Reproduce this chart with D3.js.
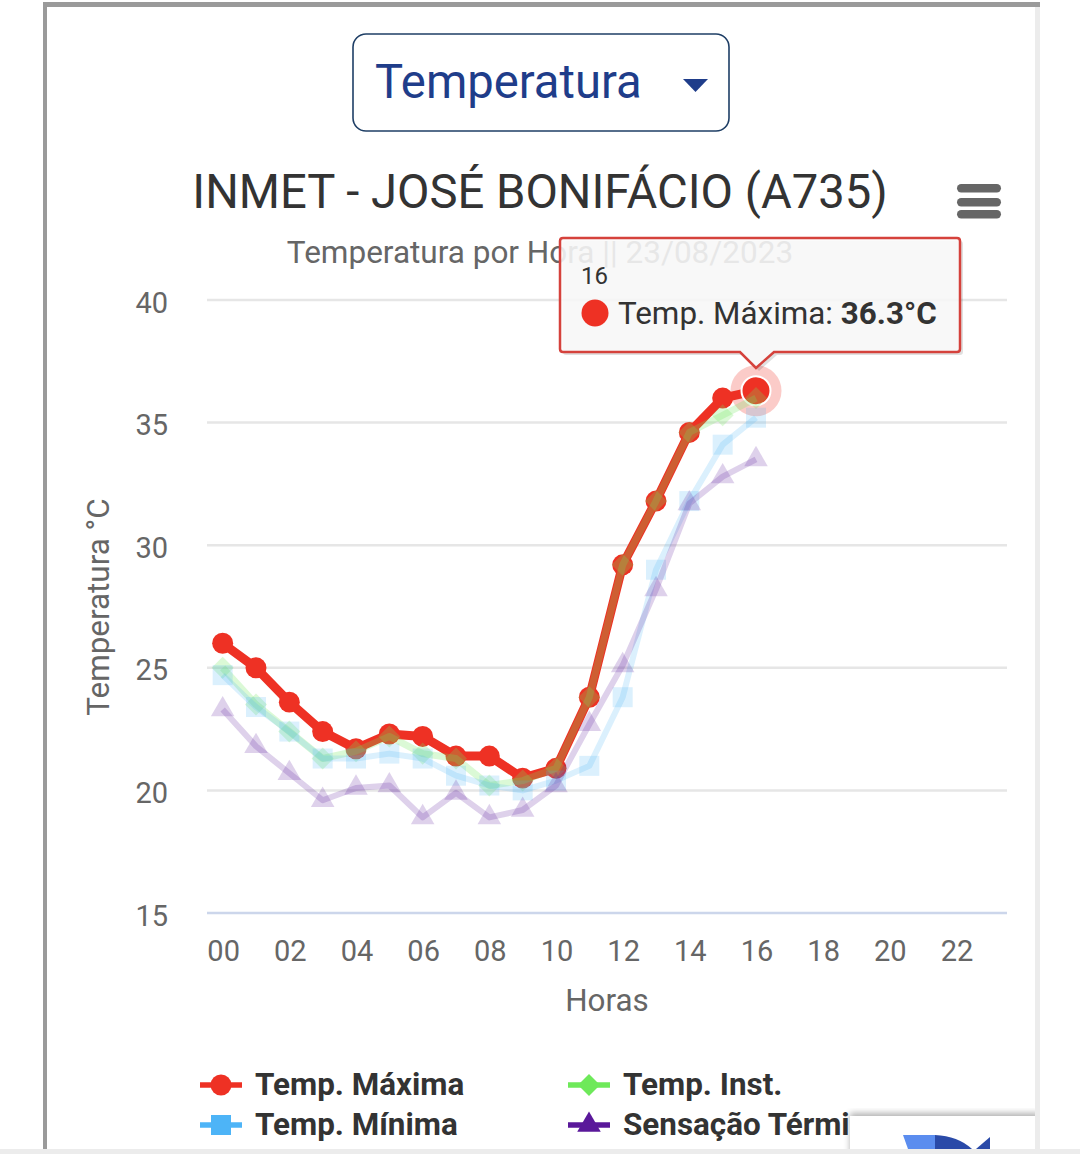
<!DOCTYPE html>
<html>
<head>
<meta charset="utf-8">
<script src="https://cdnjs.cloudflare.com/ajax/libs/d3/7.8.5/d3.min.js"></script>
<style>
html, body { margin: 0; padding: 0; background: #fff; overflow: hidden; }
text { font-family: Roboto, sans-serif; }
</style>
</head>
<body>
<svg id="chart" width="1080" height="1154"></svg>
<script>
const hours = d3.range(24).map(h => String(h).padStart(2, "0"));
const tickHours = hours.filter((h, i) => i % 2 === 0);
const yTicks = [15, 20, 25, 30, 35, 40];

const tempMax = [26.0, 25.0, 23.6, 22.4, 21.7, 22.3, 22.2, 21.4, 21.4, 20.5, 20.9, 23.8, 29.2, 31.8, 34.6, 36.0, 36.3];
const tempInst = [25.0, 23.5, 22.4, 21.3, 21.6, 22.2, 21.5, 21.3, 20.2, 20.4, 20.9, 23.8, 29.2, 31.8, 34.6, 35.3, 36.0];
const tempMin = [24.7, 23.4, 22.4, 21.3, 21.3, 21.5, 21.3, 20.6, 20.2, 20.0, 20.4, 21.0, 23.8, 29.0, 31.8, 34.1, 35.2];
const sensacao = [23.3, 21.8, 20.7, 19.6, 20.1, 20.2, 18.9, 19.9, 18.9, 19.2, 20.2, 22.7, 25.1, 28.2, 31.7, 32.8, 33.5];

const svg = d3.select("#chart");

const x = d3.scaleBand().domain(hours).range([207, 1007]);
const y = d3.scaleLinear().domain([15, 40]).range([913, 300]);
const px = i => x(hours[i]) + x.bandwidth() / 2 - 1;

// page frame
svg.append("rect").attr("x", 43).attr("y", 2).attr("width", 4).attr("height", 1152).attr("fill", "#9a9a9a");
svg.append("rect").attr("x", 43).attr("y", 2).attr("width", 997).attr("height", 5).attr("fill", "#9a9a9a");

// dropdown
svg.append("rect").attr("x", 353).attr("y", 34).attr("width", 376).attr("height", 97).attr("rx", 13)
  .attr("fill", "#fff").attr("stroke", "#1f3f66").attr("stroke-width", 1.6);
svg.append("text").attr("x", 375).attr("y", 98).attr("font-size", 47.2).attr("fill", "#1f3d8a").text("Temperatura");
svg.append("path").attr("d", "M683,79 L708,79 L695.5,92 Z").attr("fill", "#1f3d8a");

// title, menu, subtitle
svg.append("text").attr("x", 540).attr("y", 208).attr("text-anchor", "middle").attr("font-size", 47.2)
  .attr("fill", "#333").text("INMET - JOSÉ BONIFÁCIO (A735)");
[184, 198, 210].forEach(top => {
  svg.append("rect").attr("x", 957).attr("y", top).attr("width", 44).attr("height", 8.5).attr("rx", 4.2).attr("fill", "#666");
});
svg.append("text").attr("x", 540).attr("y", 263).attr("text-anchor", "middle").attr("font-size", 31.5)
  .attr("fill", "#666").text("Temperatura por Hora || 23/08/2023");

// grid
svg.append("g").selectAll("line").data(yTicks).join("line")
  .attr("x1", 207).attr("x2", 1007)
  .attr("y1", d => y(d)).attr("y2", d => y(d))
  .attr("stroke", d => d === 15 ? "#ccd6eb" : "#e6e6e6").attr("stroke-width", 2.5);

// axes
const yAxis = svg.append("g").attr("transform", "translate(168,0)")
  .call(d3.axisLeft(y).tickValues(yTicks).tickSize(0).tickPadding(0));
yAxis.select(".domain").remove();
yAxis.selectAll("text").attr("font-size", 29).attr("fill", "#666").attr("dy", "0.42em").attr("font-family", "Roboto, sans-serif");

const xAxis = svg.append("g").attr("transform", "translate(0,913)")
  .call(d3.axisBottom(x).tickValues(tickHours).tickSize(0).tickPadding(27));
xAxis.select(".domain").remove();
xAxis.selectAll("text").attr("font-size", 29).attr("fill", "#666").attr("font-family", "Roboto, sans-serif");

svg.append("text").attr("x", 607).attr("y", 1011).attr("text-anchor", "middle").attr("font-size", 31.4)
  .attr("fill", "#666").text("Horas");
svg.append("text").attr("transform", "translate(109,607) rotate(-90)").attr("text-anchor", "middle")
  .attr("font-size", 31.4).attr("fill", "#666").text("Temperatura °C");

// series
const line = d3.line().x((d, i) => px(i)).y(d => y(d));
const symbols = { circle: d3.symbolCircle, diamond: d3.symbolDiamond2, square: d3.symbolSquare, triangle: d3.symbolTriangle };

const series = [
  { name: "Temp. Máxima", values: tempMax, color: "#ee3124", shape: "circle", size: 345, width: 9, opacity: 1 },
  { name: "Temp. Inst.", values: tempInst, color: "#6ee95a", shape: "diamond", size: 310, width: 7, opacity: 0.25 },
  { name: "Temp. Mínima", values: tempMin, color: "#4db4f7", shape: "square", size: 400, width: 6, opacity: 0.2 },
  { name: "Sensação Térmica", values: sensacao, color: "#5a189a", shape: "triangle", size: 240, width: 6, opacity: 0.2 }
];

const hoverX = px(16), hoverY = y(tempMax[16]);

series.forEach((s, n) => {
  const g = svg.append("g");
  g.append("path").attr("d", line(s.values)).attr("fill", "none").attr("opacity", s.opacity)
    .attr("stroke", s.color).attr("stroke-width", s.width).attr("stroke-linejoin", "round");
  g.selectAll("path.pt").data(s.values).join("path").attr("class", "pt").attr("opacity", s.opacity)
    .attr("transform", (d, i) => `translate(${px(i)},${y(d)})`)
    .attr("d", d3.symbol(symbols[s.shape], s.size))
    .attr("fill", s.color);
  // hovered point stays under the faded series
  if (n === 0) {
    g.append("circle").attr("cx", hoverX).attr("cy", hoverY).attr("r", 25.5).attr("fill", "#ee3124").attr("opacity", 0.25);
    g.append("circle").attr("cx", hoverX).attr("cy", hoverY).attr("r", 14.5).attr("fill", "#ee3124").attr("stroke", "#fff").attr("stroke-width", 2);
  }
});

// tooltip
const tipPath = `M563,238 H957 Q960,238 960,241 V349 Q960,352 957,352 H774 L${hoverX},368 L740,352 H563 Q560,352 560,349 V241 Q560,238 563,238 Z`;
svg.append("path").attr("d", tipPath).attr("transform", "translate(3,3)").attr("fill", "#000").attr("opacity", 0.12);
svg.append("path").attr("d", tipPath).attr("fill", "#fbfbfb").attr("fill-opacity", 0.88)
  .attr("stroke", "#d5423c").attr("stroke-width", 2.5);
svg.append("text").attr("x", 581).attr("y", 284).attr("font-size", 24).attr("fill", "#333").text(hours[16]);
svg.append("circle").attr("cx", 595).attr("cy", 313).attr("r", 13.5).attr("fill", "#ee3124");
const tipText = svg.append("text").attr("x", 618).attr("y", 324).attr("font-size", 31.4).attr("fill", "#333");
tipText.append("tspan").text(series[0].name + ": ");
tipText.append("tspan").attr("font-weight", 700).text(tempMax[16].toFixed(1) + "°C");

// legend
const legendPos = [[200, 1085], [568, 1085], [200, 1125], [568, 1125]];
series.forEach((s, i) => {
  const [lx, ly] = legendPos[i];
  svg.append("line").attr("x1", lx).attr("x2", lx + 42).attr("y1", ly).attr("y2", ly)
    .attr("stroke", s.color).attr("stroke-width", 5.5);
  svg.append("path").attr("transform", `translate(${lx + 21},${ly})`)
    .attr("d", d3.symbol(symbols[s.shape], s.size)).attr("fill", s.color);
  svg.append("text").attr("x", lx + 55).attr("y", ly + 10).attr("font-size", 31.4)
    .attr("font-weight", 700).attr("fill", "#333").text(s.name);
});

// recaptcha badge over the legend
svg.append("defs").append("filter").attr("id", "badgeShadow")
  .append("feGaussianBlur").attr("stdDeviation", 3);
svg.append("rect").attr("x", 850).attr("y", 1113).attr("width", 190).attr("height", 50).attr("fill", "#000").attr("opacity", 0.3).attr("filter", "url(#badgeShadow)");
svg.append("rect").attr("x", 850).attr("y", 1116).attr("width", 185).attr("height", 38).attr("fill", "#fff");
svg.append("path").attr("d", "M903,1135 H935 V1149 H908 Z").attr("fill", "#5b8def");
svg.append("path").attr("d", "M935,1135 Q958,1136 972,1149 H935 Z").attr("fill", "#2a4aa8");
svg.append("path").attr("d", "M976,1149 L990,1137 V1149 Z").attr("fill", "#2a4aa8");

// right and bottom edges
svg.append("rect").attr("x", 1035).attr("y", 7).attr("width", 5).attr("height", 1147).attr("fill", "#ececec");
svg.append("rect").attr("x", 1040).attr("y", 1100).attr("width", 40).attr("height", 54).attr("fill", "#fff");
svg.append("rect").attr("x", 0).attr("y", 1149).attr("width", 1080).attr("height", 5).attr("fill", "#ececec");
</script>
</body>
</html>
